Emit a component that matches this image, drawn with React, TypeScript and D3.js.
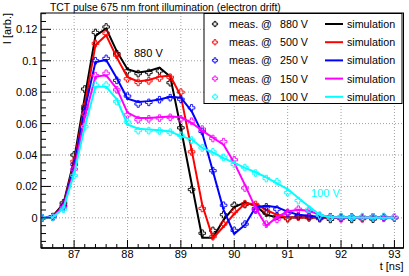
import React from 'react';
import * as d3 from 'd3';

// time grid [ns]
const times = [86.4, 86.6, 86.8, 87.0, 87.2, 87.4, 87.6, 87.8, 88.0, 88.2, 88.4, 88.6, 88.8, 89.0, 89.2, 89.4, 89.6, 89.8,
    90.0, 90.2, 90.4, 90.6, 90.8, 91.0, 91.2, 91.4, 91.6, 91.8, 92.0, 92.2, 92.4, 92.6, 92.8, 93.0];

const voltages = ['880 V', '500 V', '250 V', '150 V', '100 V'];
const colors = ['#000000', '#ff0000', '#0000ff', '#ff00ff', '#00ffff'];

const sim880 = [0, 0.001, 0.009, 0.037, 0.077, 0.1158, 0.1205, 0.106, 0.0946, 0.0925, 0.0935, 0.0956, 0.090, 0.057, 0.022, -0.0126, -0.0126, -0.0013,
    0.0068, 0.0098, 0.0077, 0.0019, 0.0004, 0.0002, 0.0003, 0.0002, 0.0002, 0.0001, 0.0001, 0.0001, 0, 0, 0, 0];
const meas880 = [0, 0.0008, 0.0095, 0.040, 0.082, 0.118, 0.1215, 0.1045, 0.0935, 0.0918, 0.0925, 0.0935, 0.086, 0.0573, 0.018, -0.0098, -0.008, 0.002,
    0.008, 0.0085, 0.006, 0.003, 0.001, -0.0005, 0.0008, 0.0, -0.0005, -0.001, 0.0005, -0.001, 0.0003, -0.0008, 0.0004, 0.0002];

const sim500 = [0, 0.001, 0.008, 0.035, 0.072, 0.110, 0.1163, 0.102, 0.0895, 0.0868, 0.0878, 0.0899, 0.0905, 0.0775, 0.0434, 0.0083, -0.013, -0.0055,
    0.0026, 0.0089, 0.0089, 0.005, 0.0019, 0.0004, 0.0002, 0.0003, 0.0001, 0, 0, 0, 0, 0, 0, 0];
const meas500 = [0, 0.0006, 0.0085, 0.036, 0.071, 0.111, 0.1175, 0.1035, 0.0885, 0.0862, 0.0872, 0.089, 0.0895, 0.080, 0.042, 0.006, -0.012, -0.004,
    0.004, 0.009, 0.0085, 0.0045, 0.001, -0.0005, 0.0005, 0.0006, -0.0003, 0.0007, -0.0004, 0.0005, -0.0006, 0.0005, 0.0003, 0];

const sim250 = [0, 0.0008, 0.0075, 0.033, 0.069, 0.0992, 0.1005, 0.0888, 0.0758, 0.0737, 0.0743, 0.0754, 0.0771, 0.0765, 0.068, 0.054, 0.0296, 0.0051,
    -0.0102, -0.0045, 0.0068, 0.0077, 0.0068, 0.004, 0.0019, 0.0013, 0.0006, 0.0003, 0.0002, 0.0001, 0, 0, 0, 0];
const meas250 = [0, 0.0005, 0.0075, 0.034, 0.0695, 0.1, 0.1015, 0.0875, 0.0775, 0.0725, 0.0735, 0.0752, 0.0765, 0.0755, 0.070, 0.055, 0.030, 0.008,
    -0.008, -0.004, 0.005, 0.007, 0.0055, 0.003, 0.0012, 0.001, 0.0002, 0.0005, -0.0002, 0.0003, -0.0003, 0.0004, 0.0002, 0.0001];

const sim150 = [0, 0.0005, 0.007, 0.030, 0.064, 0.0899, 0.0907, 0.0822, 0.067, 0.0635, 0.0635, 0.064, 0.0645, 0.064, 0.0605, 0.0555, 0.051, 0.0466,
    0.035, 0.021, 0.0062, -0.0051, 0.0004, 0.004, 0.0051, 0.0045, 0.0019, 0.0005, 0.0002, 0.0001, 0, 0, 0, 0];
const meas150 = [0, 0.0003, 0.0065, 0.031, 0.066, 0.0905, 0.092, 0.0815, 0.0655, 0.0625, 0.063, 0.0635, 0.064, 0.063, 0.0615, 0.0565, 0.0505, 0.0485,
    0.037, 0.019, 0.0055, -0.004, -0.001, 0.0035, 0.0055, 0.0043, 0.0015, 0.0002, -0.0006, 0.0003, -0.0004, 0.0006, -0.0003, 0.0002];

const sim100 = [0, 0.0004, 0.006, 0.028, 0.058, 0.0835, 0.0835, 0.0754, 0.0594, 0.0567, 0.0562, 0.0558, 0.055, 0.052, 0.050, 0.0445, 0.0417, 0.038,
    0.035, 0.0318, 0.029, 0.0258, 0.022, 0.0183, 0.0126, 0.0072, 0.0019, 0.0004, 0.0003, 0.0002, 0.0002, 0.0001, 0.0001, 0];
const meas100 = [0.0002, 0.0003, 0.0055, 0.027, 0.058, 0.0845, 0.0845, 0.074, 0.061, 0.0555, 0.0555, 0.0553, 0.0545, 0.0525, 0.0495, 0.0445, 0.042, 0.0385,
    0.034, 0.032, 0.0285, 0.025, 0.023, 0.016, 0.011, 0.0055, 0.0015, 0.0003, 0.0008, 0.0002, 0.0008, 0.0005, 0.0009, 0.0006];

const simSeries = [sim880, sim500, sim250, sim150, sim100];
const measSeries = [meas880, meas500, meas250, meas150, meas100];

const xTicks = [87, 88, 89, 90, 91, 92, 93];
const yTicks = [0, 0.02, 0.04, 0.06, 0.08, 0.1, 0.12];

const W = 409, H = 276;
const FRAME = { left: 41, right: 403.5, top: 13, bottom: 248 };
const FONT = '"Liberation Sans", Arial, Helvetica, sans-serif';

// open cross marker (ROOT style 28)
const crossPath = (s: number, a: number) =>
    `M${-a},${-s}H${a}V${-a}H${s}V${a}H${a}V${s}H${-a}V${a}H${-s}V${-a}H${-a}Z`;

const App = () => {
    const x = d3.scaleLinear().domain([86.38, 93.17]).range([FRAME.left, FRAME.right]);
    const y = d3.scaleLinear().domain([-0.0192, 0.1304]).range([FRAME.bottom, FRAME.top]);

    const xMinor = d3.range(86.4, 93.2, 0.2).filter(t => Math.abs(t - Math.round(t)) > 0.01);
    const yMinor = d3.range(-0.015, 0.13, 0.005).filter(v => Math.abs(v / 0.02 - Math.round(v / 0.02)) > 0.01);

    const lineGen = d3.line<number>()
        .x((_, i) => x(times[i]))
        .y(d => y(d));

    const marker = crossPath(3.3, 1.1);

    return (
        <svg width={W} height={H} style={{ position: 'absolute', left: 0, top: 0, background: '#fff' }}
            fontFamily={FONT}>
            <defs>
                <clipPath id="frame-clip">
                    <rect x={FRAME.left} y={FRAME.top} width={FRAME.right - FRAME.left} height={FRAME.bottom - FRAME.top} />
                </clipPath>
            </defs>
            <rect width={W} height={H} fill="#fff" />

            {/* grid */}
            <g stroke="#888" strokeWidth={0.8} strokeDasharray="1,2">
                {xTicks.map(t => <line key={t} x1={x(t)} x2={x(t)} y1={FRAME.top} y2={FRAME.bottom} />)}
                {yTicks.map(v => <line key={v} x1={FRAME.left} x2={FRAME.right} y1={y(v)} y2={y(v)} />)}
            </g>

            {/* series */}
            <g clipPath="url(#frame-clip)">
                {simSeries.map((s, k) => (
                    <g key={k}>
                        <g fill="none" stroke={colors[k]} strokeWidth={0.9}>
                            {measSeries[k].map((v, i) => (
                                <path key={i} d={marker} transform={`translate(${x(times[i])},${y(v)})`} />
                            ))}
                        </g>
                        <path d={lineGen(s) || ''} fill="none" stroke={colors[k]} strokeWidth={2} strokeLinejoin="miter" />
                    </g>
                ))}
            </g>

            {/* frame and ticks */}
            <rect x={FRAME.left} y={FRAME.top} width={FRAME.right - FRAME.left} height={FRAME.bottom - FRAME.top}
                fill="none" stroke="#000" strokeWidth={1} />
            <line x1={FRAME.left} x2={FRAME.left} y1={FRAME.top} y2={FRAME.bottom} stroke="#555" strokeWidth={2} />
            <line x1={FRAME.left} x2={FRAME.right} y1={FRAME.bottom} y2={FRAME.bottom} stroke="#000" strokeWidth={1.5} />
            <g stroke="#000" strokeWidth={1}>
                {xTicks.map(t => <line key={t} x1={x(t)} x2={x(t)} y1={FRAME.bottom} y2={FRAME.bottom - 8} />)}
                {xMinor.map(t => <line key={t} x1={x(t)} x2={x(t)} y1={FRAME.bottom} y2={FRAME.bottom - 4} />)}
                {yTicks.map(v => <line key={v} x1={FRAME.left} x2={FRAME.left + 10} y1={y(v)} y2={y(v)} />)}
                {yMinor.map(v => <line key={v} x1={FRAME.left} x2={FRAME.left + 5} y1={y(v)} y2={y(v)} />)}
            </g>

            {/* tick labels */}
            <g fontSize={11} fill="#000">
                {xTicks.map(t => <text key={t} x={x(t)} y={258} textAnchor="middle">{t}</text>)}
                {yTicks.map(v => <text key={v} x={37.5} y={y(v) + 4} textAnchor="end">{d3.format('~g')(v)}</text>)}
            </g>

            {/* axis titles */}
            <text x={FRAME.right} y={270} fontSize={11} textAnchor="end">t [ns]</text>
            <text transform={`translate(10.5,${FRAME.top}) rotate(-90)`} fontSize={11} textAnchor="end">I [arb.]</text>

            {/* title */}
            <text x={50} y={10.5} fontSize={10.4}>TCT pulse 675 nm front illumination (electron drift)</text>

            {/* annotations */}
            <text x={134} y={57} fontSize={11} fill="#000">880 V</text>
            <text x={311} y={197} fontSize={11} fill={colors[4]}>100 V</text>

            {/* legend */}
            <rect x={204} y={13.5} width={198} height={90} fill="#fff" stroke="#000" strokeWidth={1} />
            <g fontSize={10.7}>
                {voltages.map((v, k) => {
                    const ly = 24 + k * 18.2;
                    return (
                        <g key={v}>
                            <path d={crossPath(2.6, 0.9)} transform={`translate(215,${ly})`} fill="none"
                                stroke={colors[k]} strokeWidth={0.9} />
                            <text x={229} y={ly + 4}>meas. @</text>
                            <text x={280} y={ly + 4}>{v}</text>
                            <line x1={325} x2={343} y1={ly} y2={ly} stroke={colors[k]} strokeWidth={2} />
                            <text x={347} y={ly + 4}>simulation</text>
                        </g>
                    );
                })}
            </g>
        </svg>
    );
};

export default App;
